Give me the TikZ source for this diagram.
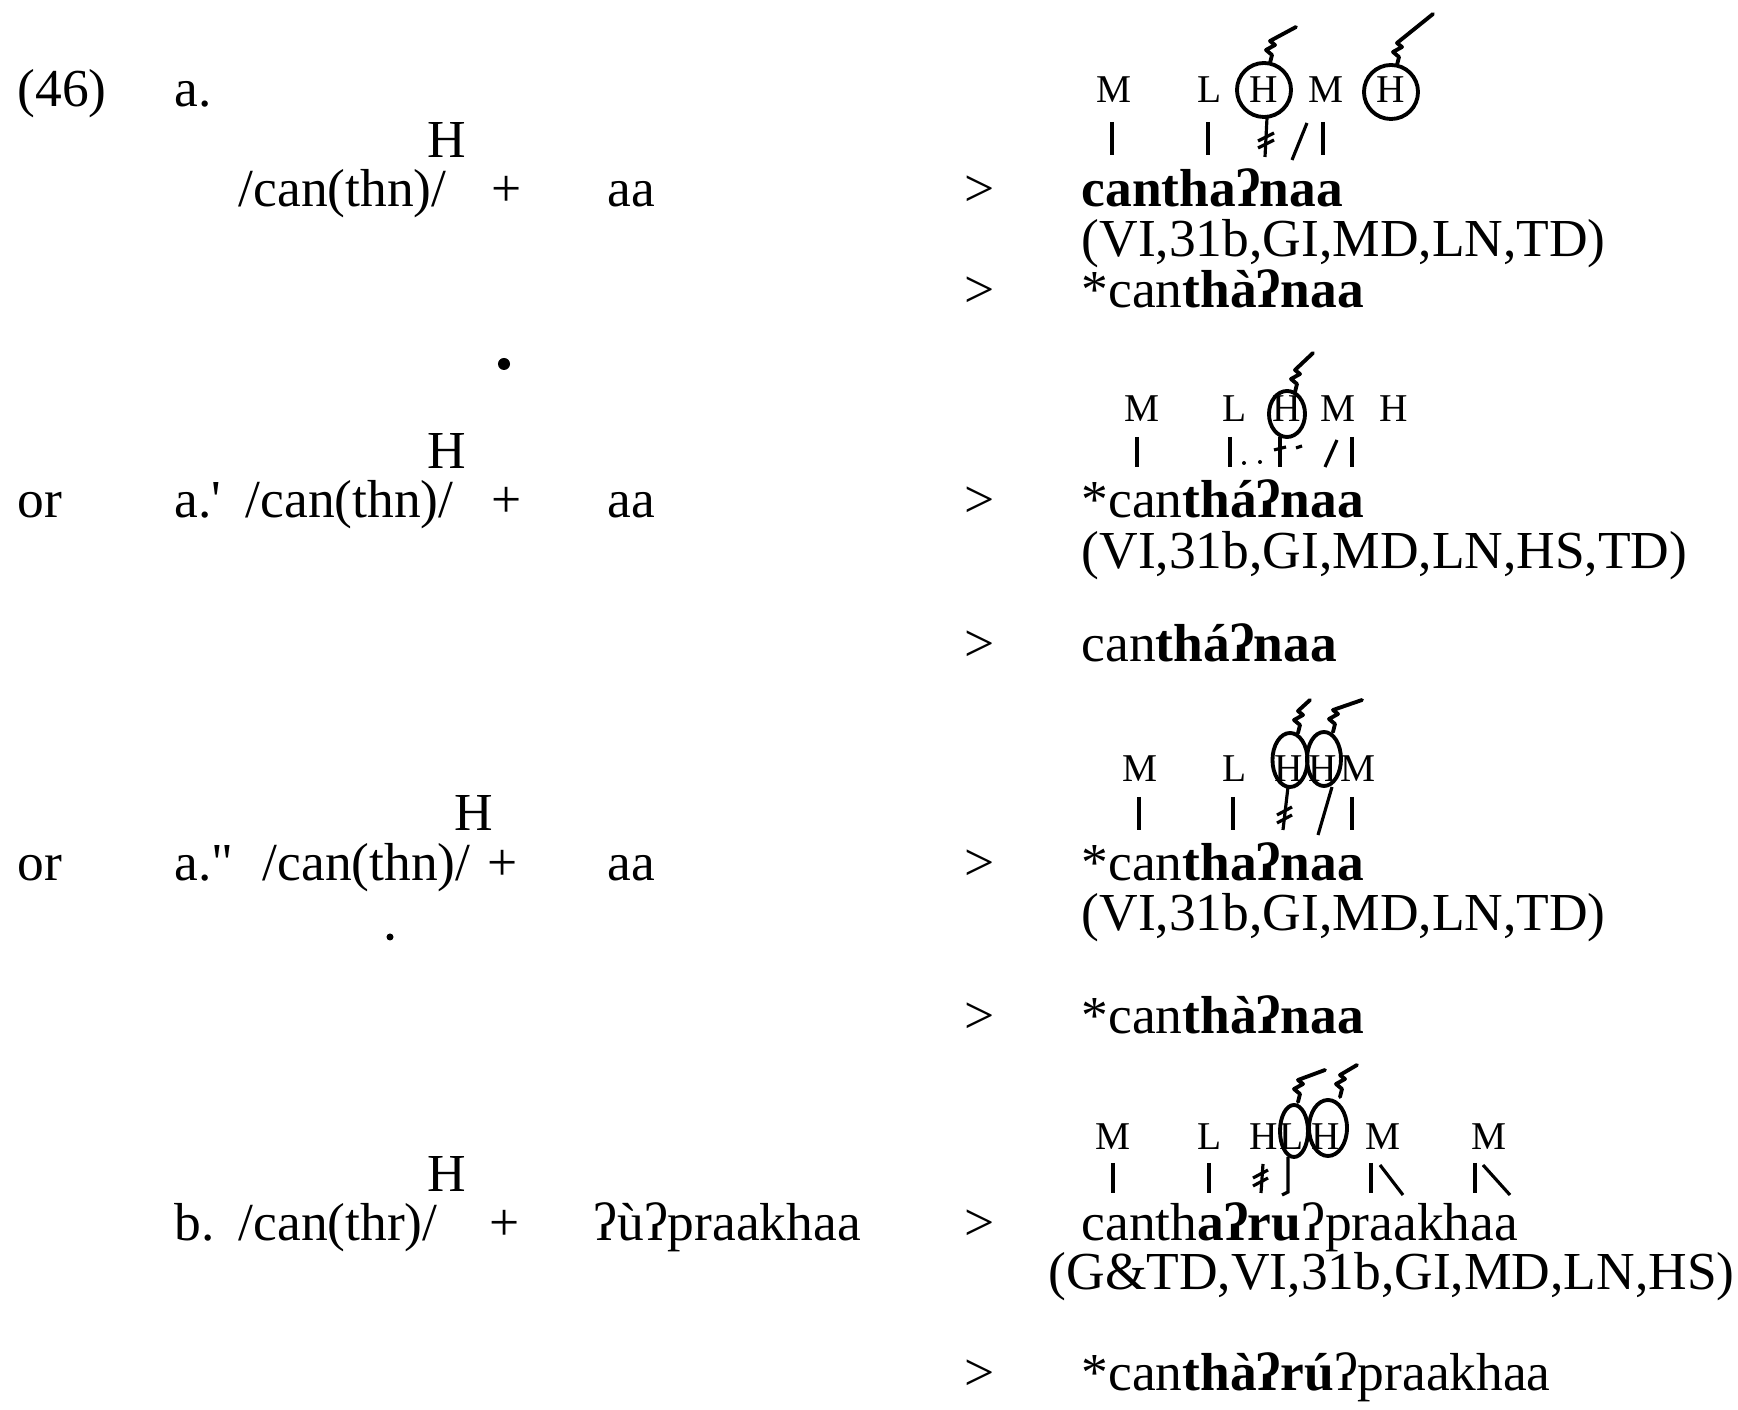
\documentclass[tikz,border=0pt]{standalone}
\usepackage{fontspec}
\setmainfont{Liberation Serif}
\newcommand{\glst}{ʔ}
\newcommand{\squig}[2]{\draw[sq] #1 -- ++(2,-8) -- ++(-6,-5) -- ++(9,-5) -- ++(-5,-4) -- #2;}
\begin{document}
\begin{tikzpicture}[x=0.01cm,y=-0.01cm,
  txt/.style={anchor=base west, inner sep=0pt, font=\fontsize{15.2}{18}\selectfont},
  ctxt/.style={txt, anchor=base},
  tone/.style={anchor=base, inner sep=0pt, font=\fontsize{11.2}{13}\selectfont},
  assoc/.style={line width=0.9pt},
  ring/.style={line width=1.1pt},
  sq/.style={line width=1.1pt, line join=round, line cap=round}]
\useasboundingbox (0,0) rectangle (1738,1410);

% ---------------- row a ----------------
\node[txt] (n46) at (17,107) {(46)};
\node[txt] (lblA) at (174,107) {a.};
\node[ctxt] (HA) at (447,158) {H};
\node[txt] (stemA) at (238,207) {/can(thn)/};
\node[ctxt] (plusA) at (507,207) {+};
\node[txt] (sufA) at (607,207) {aa};
\node[txt] (gtA1) at (964,207) {>};
\node[txt] (outA1) at (1081,207) {\textbf{cantha\glst naa}};
\node[txt] (srcA1) at (1081,257) {(VI,31b,GI,MD,LN,TD)};
\node[txt] (gtA2) at (964,308) {>};
\node[txt] (outA2) at (1081,308) {*can\textbf{thà\glst naa}};

\node[tone] (aM1) at (1114,103) {M};
\node[tone] (aL) at (1210,103) {L};
\node[tone] (aH1) at (1264,103) {H};
\node[tone] (aM2) at (1326,103) {M};
\node[tone] (aH2) at (1391,103) {H};
\draw[ring] (1264,90) circle[radius=0.27cm];
\draw[ring] (1391,92) circle[radius=0.27cm];
\squig{(1270,63)}{(1296,27)}
\squig{(1397,65)}{(1433,14)}
\draw[assoc] (1112,122) -- (1112,155);
\draw[assoc] (1208,122) -- (1208,155);
\draw[assoc] (1267,118) -- (1265,157);
\draw[assoc] (1258,141) -- (1274,133);
\draw[assoc] (1258,148) -- (1274,140);
\draw[assoc] (1307,123) -- (1292,160);
\draw[assoc] (1323,122) -- (1323,155);

% speck
\fill (504,364) circle[radius=0.06cm];

% ---------------- row a' ----------------
\node[ctxt] (HB) at (447,469) {H};
\node[txt] (orB) at (17,518) {or};
\node[txt] (lblB) at (174,518) {a.\textquotesingle};
\node[txt] (stemB) at (245,518) {/can(thn)/};
\node[ctxt] (plusB) at (507,518) {+};
\node[txt] (sufB) at (607,518) {aa};
\node[txt] (gtB1) at (964,518) {>};
\node[txt] (outB1) at (1081,518) {*can\textbf{thá\glst naa}};
\node[txt] (srcB1) at (1081,569) {(VI,31b,GI,MD,LN,HS,TD)};
\node[txt] (gtB2) at (964,662) {>};
\node[txt] (outB2) at (1081,662) {can\textbf{thá\glst naa}};

\node[tone] (bM1) at (1142,422) {M};
\node[tone] (bL) at (1235,422) {L};
\node[tone] (bH1) at (1287,422) {H};
\node[tone] (bM2) at (1338,422) {M};
\node[tone] (bH2) at (1394,422) {H};
\draw[ring] (1287,414) ellipse[x radius=0.18cm, y radius=0.23cm];
\squig{(1295,392)}{(1313,353)}
\draw[assoc] (1137,437) -- (1137,467);
\draw[assoc] (1230,437) -- (1230,467);
\fill (1244,463) circle[radius=0.02cm];
\fill (1260,462) circle[radius=0.02cm];
\draw[assoc] (1280,437) -- (1280,467);
\draw[assoc] (1274,450) -- (1286,447);
\draw[assoc] (1296,448) -- (1302,446);
\draw[assoc] (1337,440) -- (1325,467);
\draw[assoc] (1352,437) -- (1352,467);

% ---------------- row a'' ----------------
\node[ctxt] (HC) at (474,831) {H};
\node[txt] (orC) at (17,881) {or};
\node[txt] (lblC) at (174,881) {a.\textquotedbl};
\node[txt] (stemC) at (262,881) {/can(thn)/};
\node[ctxt] (plusC) at (503,881) {+};
\node[txt] (sufC) at (607,881) {aa};
\node[txt] (gtC1) at (964,881) {>};
\node[txt] (outC1) at (1081,881) {*can\textbf{tha\glst naa}};
\node[txt] (srcC1) at (1081,931) {(VI,31b,GI,MD,LN,TD)};
\node[txt] (gtC2) at (964,1034) {>};
\node[txt] (outC2) at (1081,1034) {*can\textbf{thà\glst naa}};

\fill (390,937) circle[radius=0.035cm];

\node[tone] (cM1) at (1140,782) {M};
\node[tone] (cL) at (1235,782) {L};
\node[tone] (cH1) at (1289,782) {H};
\node[tone] (cH2) at (1323,782) {H};
\node[tone] (cM2) at (1358,782) {M};
\draw[ring] (1290,760) ellipse[x radius=0.175cm, y radius=0.27cm];
\draw[ring] (1324,759) ellipse[x radius=0.17cm, y radius=0.27cm];
\squig{(1298,733)}{(1310,700)}
\squig{(1333,732)}{(1362,700)}
\draw[assoc] (1139,797) -- (1139,830);
\draw[assoc] (1233,797) -- (1233,830);
\draw[assoc] (1288,787) -- (1283,830);
\draw[assoc] (1277,815) -- (1292,807);
\draw[assoc] (1277,823) -- (1292,815);
\draw[assoc] (1332,787) -- (1318,835);
\draw[assoc] (1352,797) -- (1352,830);

% ---------------- row b ----------------
\node[ctxt] (HD) at (447,1192) {H};
\node[txt] (lblD) at (174,1241) {b.};
\node[txt] (stemD) at (238,1241) {/can(thr)/};
\node[ctxt] (plusD) at (505,1241) {+};
\node[txt] (sufD) at (593,1241) {\glst ù\glst praakhaa};
\node[txt] (gtD1) at (964,1241) {>};
\node[txt] (outD1) at (1081,1241) {canth\textbf{a\glst ru}\glst praakhaa};
\node[txt] (srcD1) at (1048,1290) {(G\&TD,VI,31b,GI,MD,LN,HS)};
\node[txt] (gtD2) at (964,1391) {>};
\node[txt] (outD2) at (1081,1391) {*can\textbf{thà\glst rú}\glst praakhaa};

\node[tone] (dM1) at (1113,1150) {M};
\node[tone] (dL1) at (1210,1150) {L};
\node[tone] (dH1) at (1264,1150) {H};
\node[tone] (dL2) at (1292,1150) {L};
\node[tone] (dH2) at (1326,1150) {H};
\node[tone] (dM2) at (1383,1150) {M};
\node[tone] (dM3) at (1489,1150) {M};
\draw[ring] (1294,1131) ellipse[x radius=0.14cm, y radius=0.26cm];
\draw[ring] (1328,1128) ellipse[x radius=0.19cm, y radius=0.28cm];
\squig{(1298,1102)}{(1325,1070)}
\squig{(1340,1097)}{(1357,1065)}
\draw[assoc] (1113,1163) -- (1113,1193);
\draw[assoc] (1209,1163) -- (1209,1193);
\draw[assoc] (1263,1164) -- (1261,1193);
\draw[assoc] (1253,1178) -- (1268,1170);
\draw[assoc] (1253,1186) -- (1268,1178);
\draw[assoc] (1288,1157) -- (1288,1192) -- (1282,1195);
\draw[assoc] (1371,1163) -- (1371,1193);
\draw[assoc] (1380,1165) -- (1403,1195);
\draw[assoc] (1475,1163) -- (1475,1193);
\draw[assoc] (1483,1165) -- (1510,1195);
\end{tikzpicture}
\end{document}
